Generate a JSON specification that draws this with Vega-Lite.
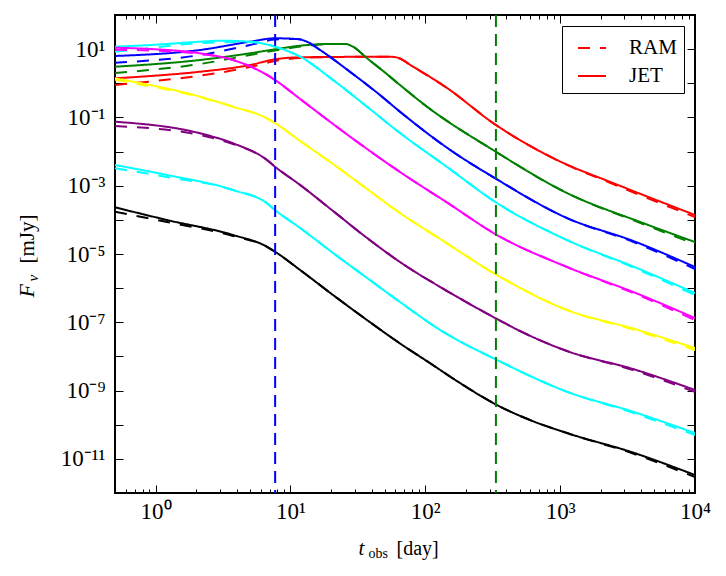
{
  "$schema": "https://vega.github.io/schema/vega-lite/v6.json",
  "width": 580,
  "height": 478,
  "autosize": {"type": "none"},
  "padding": {"left": 115, "top": 15, "right": 31, "bottom": 83},
  "background": "white",
  "data": {"values": [
    {"t":0.5,"F":1.40,"s":"red","m":"JET"},{"t":0.909,"F":1.63,"s":"red","m":"JET"},{"t":2.135,"F":2.18,"s":"red","m":"JET"},{"t":5.01,"F":3.43,"s":"red","m":"JET"},{"t":7.68,"F":5.04,"s":"red","m":"JET"},{"t":11.8,"F":5.77,"s":"red","m":"JET"},{"t":30,"F":5.96,"s":"red","m":"JET"},{"t":54.7,"F":6.01,"s":"red","m":"JET"},{"t":61.7,"F":5.69,"s":"red","m":"JET"},{"t":81.1,"F":3.06,"s":"red","m":"JET"},{"t":145,"F":0.728,"s":"red","m":"JET"},{"t":318,"F":0.0687,"s":"red","m":"JET"},{"t":948,"F":0.00566,"s":"red","m":"JET"},{"t":2466,"F":0.00120,"s":"red","m":"JET"},{"t":10000,"F":1.39e-4,"s":"red","m":"JET"},
    {"t":0.5,"F":0.891,"s":"red","m":"RAM"},{"t":0.909,"F":1.127,"s":"red","m":"RAM"},{"t":2.135,"F":1.667,"s":"red","m":"RAM"},{"t":5.01,"F":3.00,"s":"red","m":"RAM"},{"t":7.68,"F":4.50,"s":"red","m":"RAM"},{"t":11.8,"F":5.51,"s":"red","m":"RAM"},{"t":30,"F":5.96,"s":"red","m":"RAM"},{"t":54.7,"F":6.01,"s":"red","m":"RAM"},{"t":61.7,"F":5.69,"s":"red","m":"RAM"},{"t":81.1,"F":3.06,"s":"red","m":"RAM"},{"t":145,"F":0.728,"s":"red","m":"RAM"},{"t":318,"F":0.0687,"s":"red","m":"RAM"},{"t":948,"F":0.0056,"s":"red","m":"RAM"},{"t":2466,"F":0.00112,"s":"red","m":"RAM"},{"t":10000,"F":1.21e-4,"s":"red","m":"RAM"},

    {"t":0.5,"F":3.06,"s":"green","m":"JET"},{"t":2.135,"F":4.81,"s":"green","m":"JET"},{"t":5.01,"F":7.55,"s":"green","m":"JET"},{"t":7.68,"F":9.89,"s":"green","m":"JET"},{"t":11.8,"F":12.6,"s":"green","m":"JET"},{"t":20.7,"F":14.2,"s":"green","m":"JET"},{"t":25.4,"F":14.2,"s":"green","m":"JET"},{"t":29.1,"F":11.8,"s":"green","m":"JET"},{"t":37.0,"F":5.40,"s":"green","m":"JET"},{"t":48.6,"F":2.3,"s":"green","m":"JET"},{"t":64.9,"F":0.89,"s":"green","m":"JET"},{"t":103,"F":0.206,"s":"green","m":"JET"},{"t":318,"F":0.0111,"s":"green","m":"JET"},{"t":1124,"F":6.11e-4,"s":"green","m":"JET"},{"t":4116,"F":8.07e-5,"s":"green","m":"JET"},{"t":10000,"F":2.24e-5,"s":"green","m":"JET"},
    {"t":0.5,"F":2.00,"s":"green","m":"RAM"},{"t":2.135,"F":3.67,"s":"green","m":"RAM"},{"t":5.01,"F":6.73,"s":"green","m":"RAM"},{"t":7.68,"F":9.12,"s":"green","m":"RAM"},{"t":11.8,"F":11.9,"s":"green","m":"RAM"},{"t":20.7,"F":14.2,"s":"green","m":"RAM"},{"t":25.4,"F":14.2,"s":"green","m":"RAM"},{"t":29.1,"F":11.8,"s":"green","m":"RAM"},{"t":37.0,"F":5.40,"s":"green","m":"RAM"},{"t":48.6,"F":2.3,"s":"green","m":"RAM"},{"t":64.9,"F":0.89,"s":"green","m":"RAM"},{"t":103,"F":0.206,"s":"green","m":"RAM"},{"t":318,"F":0.0111,"s":"green","m":"RAM"},{"t":1124,"F":6.11e-4,"s":"green","m":"RAM"},{"t":4116,"F":7.55e-5,"s":"green","m":"RAM"},{"t":10000,"F":1.96e-5,"s":"green","m":"RAM"},

    {"t":0.5,"F":6.30,"s":"blue","m":"JET"},{"t":2.135,"F":9.44,"s":"blue","m":"JET"},{"t":5.01,"F":16.5,"s":"blue","m":"JET"},{"t":7.68,"F":20.8,"s":"blue","m":"JET"},{"t":11.19,"F":19.8,"s":"blue","m":"JET"},{"t":13.27,"F":16.5,"s":"blue","m":"JET"},{"t":16.6,"F":9.44,"s":"blue","m":"JET"},{"t":27.6,"F":2.18,"s":"blue","m":"JET"},{"t":46.1,"F":0.454,"s":"blue","m":"JET"},{"t":64.9,"F":0.147,"s":"blue","m":"JET"},{"t":161,"F":0.00971,"s":"blue","m":"JET"},{"t":318,"F":0.00180,"s":"blue","m":"JET"},{"t":1124,"F":1.13e-4,"s":"blue","m":"JET"},{"t":3470,"F":2.42e-5,"s":"blue","m":"JET"},{"t":10000,"F":4.16e-6,"s":"blue","m":"JET"},
    {"t":0.5,"F":4.01,"s":"blue","m":"RAM"},{"t":2.135,"F":6.73,"s":"blue","m":"RAM"},{"t":5.01,"F":13.2,"s":"blue","m":"RAM"},{"t":7.68,"F":19.1,"s":"blue","m":"RAM"},{"t":11.19,"F":19.8,"s":"blue","m":"RAM"},{"t":13.27,"F":16.5,"s":"blue","m":"RAM"},{"t":16.6,"F":9.44,"s":"blue","m":"RAM"},{"t":27.6,"F":2.18,"s":"blue","m":"RAM"},{"t":46.1,"F":0.454,"s":"blue","m":"RAM"},{"t":64.9,"F":0.147,"s":"blue","m":"RAM"},{"t":161,"F":0.00971,"s":"blue","m":"RAM"},{"t":318,"F":0.00180,"s":"blue","m":"RAM"},{"t":1124,"F":1.13e-4,"s":"blue","m":"RAM"},{"t":3470,"F":2.26e-5,"s":"blue","m":"RAM"},{"t":10000,"F":3.64e-6,"s":"blue","m":"RAM"},

    {"t":0.5,"F":11.8,"s":"cyan1","m":"JET"},{"t":0.909,"F":13.2,"s":"cyan1","m":"JET"},{"t":2.135,"F":16.5,"s":"cyan1","m":"JET"},{"t":3.0,"F":17.7,"s":"cyan1","m":"JET"},{"t":5.01,"F":16.5,"s":"cyan1","m":"JET"},{"t":7.68,"F":11.8,"s":"cyan1","m":"JET"},{"t":11.8,"F":6.01,"s":"cyan1","m":"JET"},{"t":20.7,"F":1.25,"s":"cyan1","m":"JET"},{"t":37.0,"F":0.206,"s":"cyan1","m":"JET"},{"t":64.9,"F":0.035,"s":"cyan1","m":"JET"},{"t":145,"F":0.00353,"s":"cyan1","m":"JET"},{"t":340,"F":3.11e-4,"s":"cyan1","m":"JET"},{"t":1124,"F":2.56e-5,"s":"cyan1","m":"JET"},{"t":3470,"F":4.33e-6,"s":"cyan1","m":"JET"},{"t":10000,"F":7.19e-7,"s":"cyan1","m":"JET"},
    {"t":0.5,"F":8.41,"s":"cyan1","m":"RAM"},{"t":0.909,"F":10.8,"s":"cyan1","m":"RAM"},{"t":2.135,"F":15.1,"s":"cyan1","m":"RAM"},{"t":5.01,"F":16.2,"s":"cyan1","m":"RAM"},{"t":7.68,"F":11.8,"s":"cyan1","m":"RAM"},{"t":11.8,"F":6.01,"s":"cyan1","m":"RAM"},{"t":20.7,"F":1.25,"s":"cyan1","m":"RAM"},{"t":37.0,"F":0.206,"s":"cyan1","m":"RAM"},{"t":64.9,"F":0.035,"s":"cyan1","m":"RAM"},{"t":145,"F":0.00353,"s":"cyan1","m":"RAM"},{"t":340,"F":3.11e-4,"s":"cyan1","m":"RAM"},{"t":1124,"F":2.56e-5,"s":"cyan1","m":"RAM"},{"t":3470,"F":4.05e-6,"s":"cyan1","m":"RAM"},{"t":10000,"F":6.28e-7,"s":"cyan1","m":"RAM"},

    {"t":0.5,"F":11.0,"s":"magenta","m":"JET"},{"t":0.909,"F":10.1,"s":"magenta","m":"JET"},{"t":2.135,"F":7.55,"s":"magenta","m":"JET"},{"t":3.75,"F":4.81,"s":"magenta","m":"JET"},{"t":6.70,"F":1.75,"s":"magenta","m":"JET"},{"t":7.68,"F":1.25,"s":"magenta","m":"JET"},{"t":11.8,"F":0.347,"s":"magenta","m":"JET"},{"t":20.7,"F":0.0641,"s":"magenta","m":"JET"},{"t":37.0,"F":0.0119,"s":"magenta","m":"JET"},{"t":64.9,"F":0.00252,"s":"magenta","m":"JET"},{"t":145,"F":3.22e-4,"s":"magenta","m":"JET"},{"t":340,"F":3.60e-5,"s":"magenta","m":"JET"},{"t":1124,"F":4.16e-6,"s":"magenta","m":"JET"},{"t":3470,"F":7.75e-7,"s":"magenta","m":"JET"},{"t":10000,"F":1.33e-7,"s":"magenta","m":"JET"},
    {"t":0.5,"F":9.55,"s":"magenta","m":"RAM"},{"t":0.909,"F":9.12,"s":"magenta","m":"RAM"},{"t":2.135,"F":7.24,"s":"magenta","m":"RAM"},{"t":3.75,"F":4.81,"s":"magenta","m":"RAM"},{"t":6.70,"F":1.75,"s":"magenta","m":"RAM"},{"t":7.68,"F":1.25,"s":"magenta","m":"RAM"},{"t":11.8,"F":0.347,"s":"magenta","m":"RAM"},{"t":20.7,"F":0.0641,"s":"magenta","m":"RAM"},{"t":37.0,"F":0.0119,"s":"magenta","m":"RAM"},{"t":64.9,"F":0.00252,"s":"magenta","m":"RAM"},{"t":145,"F":3.22e-4,"s":"magenta","m":"RAM"},{"t":340,"F":3.60e-5,"s":"magenta","m":"RAM"},{"t":1124,"F":4.16e-6,"s":"magenta","m":"RAM"},{"t":3470,"F":7.25e-7,"s":"magenta","m":"RAM"},{"t":10000,"F":1.16e-7,"s":"magenta","m":"RAM"},

    {"t":0.5,"F":1.40,"s":"yellow","m":"JET"},{"t":2.135,"F":0.405,"s":"yellow","m":"JET"},{"t":3.75,"F":0.206,"s":"yellow","m":"JET"},{"t":6.70,"F":0.0942,"s":"yellow","m":"JET"},{"t":7.68,"F":0.0687,"s":"yellow","m":"JET"},{"t":11.8,"F":0.0204,"s":"yellow","m":"JET"},{"t":20.7,"F":0.00432,"s":"yellow","m":"JET"},{"t":37.0,"F":8.0e-4,"s":"yellow","m":"JET"},{"t":64.9,"F":1.58e-4,"s":"yellow","m":"JET"},{"t":129,"F":2.75e-5,"s":"yellow","m":"JET"},{"t":340,"F":2.42e-6,"s":"yellow","m":"JET"},{"t":1124,"F":2.29e-7,"s":"yellow","m":"JET"},{"t":3470,"F":6.56e-8,"s":"yellow","m":"JET"},{"t":10000,"F":1.76e-8,"s":"yellow","m":"JET"},
    {"t":0.5,"F":1.26,"s":"yellow","m":"RAM"},{"t":2.135,"F":0.389,"s":"yellow","m":"RAM"},{"t":3.75,"F":0.206,"s":"yellow","m":"RAM"},{"t":6.70,"F":0.0942,"s":"yellow","m":"RAM"},{"t":7.68,"F":0.0687,"s":"yellow","m":"RAM"},{"t":11.8,"F":0.0204,"s":"yellow","m":"RAM"},{"t":20.7,"F":0.00432,"s":"yellow","m":"RAM"},{"t":37.0,"F":8.0e-4,"s":"yellow","m":"RAM"},{"t":64.9,"F":1.58e-4,"s":"yellow","m":"RAM"},{"t":129,"F":2.75e-5,"s":"yellow","m":"RAM"},{"t":340,"F":2.42e-6,"s":"yellow","m":"RAM"},{"t":1124,"F":2.29e-7,"s":"yellow","m":"RAM"},{"t":3470,"F":6.13e-8,"s":"yellow","m":"RAM"},{"t":10000,"F":1.54e-8,"s":"yellow","m":"RAM"},

    {"t":0.5,"F":0.0750,"s":"purple","m":"JET"},{"t":2.135,"F":0.0343,"s":"purple","m":"JET"},{"t":3.75,"F":0.0175,"s":"purple","m":"JET"},{"t":6.70,"F":0.00566,"s":"purple","m":"JET"},{"t":7.68,"F":0.00361,"s":"purple","m":"JET"},{"t":11.8,"F":1.05e-3,"s":"purple","m":"JET"},{"t":20.7,"F":1.82e-4,"s":"purple","m":"JET"},{"t":37.0,"F":2.94e-5,"s":"purple","m":"JET"},{"t":64.9,"F":5.82e-6,"s":"purple","m":"JET"},{"t":145,"F":8.24e-7,"s":"purple","m":"JET"},{"t":340,"F":1.25e-7,"s":"purple","m":"JET"},{"t":504,"F":5.55e-8,"s":"purple","m":"JET"},{"t":1124,"F":1.44e-8,"s":"purple","m":"JET"},{"t":3470,"F":4.28e-9,"s":"purple","m":"JET"},{"t":10000,"F":1.04e-9,"s":"purple","m":"JET"},
    {"t":0.5,"F":0.0561,"s":"purple","m":"RAM"},{"t":2.135,"F":0.0305,"s":"purple","m":"RAM"},{"t":3.75,"F":0.0166,"s":"purple","m":"RAM"},{"t":6.70,"F":0.00566,"s":"purple","m":"RAM"},{"t":7.68,"F":0.00361,"s":"purple","m":"RAM"},{"t":11.8,"F":1.05e-3,"s":"purple","m":"RAM"},{"t":20.7,"F":1.82e-4,"s":"purple","m":"RAM"},{"t":37.0,"F":2.94e-5,"s":"purple","m":"RAM"},{"t":64.9,"F":5.82e-6,"s":"purple","m":"RAM"},{"t":145,"F":8.24e-7,"s":"purple","m":"RAM"},{"t":340,"F":1.25e-7,"s":"purple","m":"RAM"},{"t":504,"F":5.55e-8,"s":"purple","m":"RAM"},{"t":1124,"F":1.44e-8,"s":"purple","m":"RAM"},{"t":3470,"F":4.00e-9,"s":"purple","m":"RAM"},{"t":10000,"F":9.09e-10,"s":"purple","m":"RAM"},

    {"t":0.5,"F":0.00404,"s":"cyan2","m":"JET"},{"t":1.215,"F":0.00206,"s":"cyan2","m":"JET"},{"t":3.75,"F":7.48e-4,"s":"cyan2","m":"JET"},{"t":6.70,"F":3.05e-4,"s":"cyan2","m":"JET"},{"t":7.68,"F":1.94e-4,"s":"cyan2","m":"JET"},{"t":11.8,"F":5.77e-5,"s":"cyan2","m":"JET"},{"t":20.7,"F":1.07e-5,"s":"cyan2","m":"JET"},{"t":37.0,"F":1.98e-6,"s":"cyan2","m":"JET"},{"t":64.9,"F":3.93e-7,"s":"cyan2","m":"JET"},{"t":129,"F":5.93e-8,"s":"cyan2","m":"JET"},{"t":340,"F":7.85e-9,"s":"cyan2","m":"JET"},{"t":1124,"F":9.25e-10,"s":"cyan2","m":"JET"},{"t":3470,"F":2.40e-10,"s":"cyan2","m":"JET"},{"t":10000,"F":5.70e-11,"s":"cyan2","m":"JET"},
    {"t":0.5,"F":0.00324,"s":"cyan2","m":"RAM"},{"t":1.215,"F":0.00180,"s":"cyan2","m":"RAM"},{"t":3.75,"F":7.48e-4,"s":"cyan2","m":"RAM"},{"t":6.70,"F":3.05e-4,"s":"cyan2","m":"RAM"},{"t":7.68,"F":1.94e-4,"s":"cyan2","m":"RAM"},{"t":11.8,"F":5.77e-5,"s":"cyan2","m":"RAM"},{"t":20.7,"F":1.07e-5,"s":"cyan2","m":"RAM"},{"t":37.0,"F":1.98e-6,"s":"cyan2","m":"RAM"},{"t":64.9,"F":3.93e-7,"s":"cyan2","m":"RAM"},{"t":129,"F":5.93e-8,"s":"cyan2","m":"RAM"},{"t":340,"F":7.85e-9,"s":"cyan2","m":"RAM"},{"t":1124,"F":9.25e-10,"s":"cyan2","m":"RAM"},{"t":3470,"F":2.24e-10,"s":"cyan2","m":"RAM"},{"t":10000,"F":4.98e-11,"s":"cyan2","m":"RAM"},

    {"t":0.5,"F":2.33e-4,"s":"black","m":"JET"},{"t":1.215,"F":9.89e-5,"s":"black","m":"JET"},{"t":3.75,"F":3.60e-5,"s":"black","m":"JET"},{"t":6.70,"F":1.63e-5,"s":"black","m":"JET"},{"t":7.68,"F":1.17e-5,"s":"black","m":"JET"},{"t":11.8,"F":3.40e-6,"s":"black","m":"JET"},{"t":20.7,"F":6.28e-7,"s":"black","m":"JET"},{"t":37.0,"F":1.16e-7,"s":"black","m":"JET"},{"t":64.9,"F":2.40e-8,"s":"black","m":"JET"},{"t":108,"F":6.41e-9,"s":"black","m":"JET"},{"t":181,"F":1.66e-9,"s":"black","m":"JET"},{"t":340,"F":3.77e-10,"s":"black","m":"JET"},{"t":598,"F":1.37e-10,"s":"black","m":"JET"},{"t":1124,"F":5.70e-11,"s":"black","m":"JET"},{"t":3470,"F":1.53e-11,"s":"black","m":"JET"},{"t":10000,"F":3.36e-12,"s":"black","m":"JET"},
    {"t":0.5,"F":1.73e-4,"s":"black","m":"RAM"},{"t":1.215,"F":8.65e-5,"s":"black","m":"RAM"},{"t":3.75,"F":3.37e-5,"s":"black","m":"RAM"},{"t":6.70,"F":1.63e-5,"s":"black","m":"RAM"},{"t":7.68,"F":1.17e-5,"s":"black","m":"RAM"},{"t":11.8,"F":3.40e-6,"s":"black","m":"RAM"},{"t":20.7,"F":6.28e-7,"s":"black","m":"RAM"},{"t":37.0,"F":1.16e-7,"s":"black","m":"RAM"},{"t":64.9,"F":2.40e-8,"s":"black","m":"RAM"},{"t":108,"F":6.41e-9,"s":"black","m":"RAM"},{"t":181,"F":1.66e-9,"s":"black","m":"RAM"},{"t":340,"F":3.77e-10,"s":"black","m":"RAM"},{"t":598,"F":1.37e-10,"s":"black","m":"RAM"},{"t":1124,"F":5.70e-11,"s":"black","m":"RAM"},{"t":3470,"F":1.43e-11,"s":"black","m":"RAM"},{"t":10000,"F":2.94e-12,"s":"black","m":"RAM"}
  ]},
  "layer": [
    {
      "mark": {"type": "line", "strokeWidth": 2, "interpolate": "monotone", "clip": true},
      "encoding": {
        "x": {"field": "t", "type": "quantitative",
              "scale": {"type": "log", "domain": [0.5, 10000], "nice": false},
              "axis": {"orient": "bottom",
                       "values": [0.6,0.7,0.8,0.9,1,2,3,4,5,6,7,8,9,10,20,30,40,50,60,70,80,90,100,200,300,400,500,600,700,800,900,1000,2000,3000,4000,5000,6000,7000,8000,9000,10000],
                       "labelExpr": "abs(log(datum.value)/LN10 - round(log(datum.value)/LN10)) < 1e-6 ? ['10⁰','10¹','10²','10³','10⁴'][round(log(datum.value)/LN10)] : ''",
                       "tickSize": {"condition": {"test": "abs(log(datum.value)/LN10 - round(log(datum.value)/LN10)) < 1e-6", "value": -8}, "value": -4},
                       "labelPadding": 15, "labelFontSize": 23, "labelOverlap": false, "labelFlush": false,
                       "title": "[day]", "titleX": 281, "titleY": 61, "titleAlign": "left", "titleBaseline": "alphabetic", "titleFontSize": 20}},
        "y": {"field": "F", "type": "quantitative",
              "scale": {"type": "log", "domain": [1e-12, 100], "nice": false},
              "axis": {"orient": "left",
                       "values": [1e-12,1e-11,1e-10,1e-9,1e-8,1e-7,1e-6,1e-5,1e-4,1e-3,1e-2,1e-1,1,10,100],
                       "labelExpr": "['','10⁻¹¹','','10⁻⁹','','10⁻⁷','','10⁻⁵','','10⁻³','','10⁻¹','','10¹',''][round(log(datum.value)/LN10) + 12]",
                       "tickSize": -8, "labelPadding": 18, "labelFontSize": 23, "labelOverlap": false, "labelFlush": false,
                       "title": "[mJy]", "titleX": -82, "titleY": 248, "titleAngle": 270, "titleAlign": "left", "titleBaseline": "alphabetic", "titleFontSize": 21}},
        "color": {"field": "s", "type": "nominal", "legend": null,
                  "scale": {"domain": ["red","green","blue","cyan1","magenta","yellow","purple","cyan2","black"],
                            "range": ["#ff0000","#008000","#0000ff","#00ffff","#ff00ff","#ffff00","#800080","#00ffff","#000000"]}},
        "strokeDash": {"field": "m", "type": "nominal",
                       "scale": {"domain": ["RAM","JET"], "range": [[12,10],[1,0]]},
                       "legend": {"title": null, "orient": "top-right", "offset": 11,
                                  "symbolType": "stroke", "symbolSize": 784, "symbolStrokeWidth": 2, "symbolStrokeColor": "#ff0000", "symbolOffset": 8,
                                  "labelFontSize": 21, "labelOffset": 22, "labelColor": "black",
                                  "labelExpr": "datum.label + '\u00a0\u00a0'",
                                  "strokeColor": "black", "fillColor": "white", "padding": 7, "rowPadding": 3, "cornerRadius": 0}}
      }
    },
    {
      "mark": {"type": "point", "opacity": 0},
      "encoding": {
        "x": {"field": "t", "type": "quantitative",
              "axis": {"orient": "top", "values": [0.6,0.7,0.8,0.9,1,2,3,4,5,6,7,8,9,10,20,30,40,50,60,70,80,90,100,200,300,400,500,600,700,800,900,1000,2000,3000,4000,5000,6000,7000,8000,9000,10000],
                       "labels": false, "title": null,
                       "tickSize": {"condition": {"test": "abs(log(datum.value)/LN10 - round(log(datum.value)/LN10)) < 1e-6", "value": -8}, "value": -4}}},
        "y": {"field": "F", "type": "quantitative",
              "axis": {"orient": "right", "values": [1e-12,1e-11,1e-10,1e-9,1e-8,1e-7,1e-6,1e-5,1e-4,1e-3,1e-2,1e-1,1,10,100],
                       "labels": false, "title": null, "tickSize": -8}}
      }
    },
    {
      "mark": {"type": "point", "opacity": 0},
      "encoding": {
        "x": {"field": "t", "type": "quantitative",
              "axis": {"orient": "bottom", "ticks": false, "labels": false,
                       "title": "t", "titleFontStyle": "italic", "titleFontSize": 21, "titleX": 243, "titleY": 61, "titleAlign": "left", "titleBaseline": "alphabetic"}},
        "y": {"field": "F", "type": "quantitative",
              "axis": {"orient": "left", "ticks": false, "labels": false,
                       "title": "F", "titleFontStyle": "italic", "titleFontSize": 22, "titleX": -82, "titleY": 282, "titleAngle": 270, "titleAlign": "left", "titleBaseline": "alphabetic"}}
      }
    },
    {
      "mark": {"type": "point", "opacity": 0},
      "encoding": {
        "x": {"field": "t", "type": "quantitative",
              "axis": {"orient": "bottom", "ticks": false, "labels": false,
                       "title": "obs", "titleFontSize": 14, "titleX": 253, "titleY": 64, "titleAlign": "left", "titleBaseline": "alphabetic"}},
        "y": {"field": "F", "type": "quantitative",
              "axis": {"orient": "left", "ticks": false, "labels": false,
                       "title": "ν", "titleFontStyle": "italic", "titleFontSize": 15, "titleX": -78, "titleY": 266, "titleAngle": 270, "titleAlign": "left", "titleBaseline": "alphabetic"}}
      }
    },
    {
      "data": {"values": [{"t": 7.7}]},
      "mark": {"type": "rule", "color": "#0000ff", "strokeWidth": 2, "strokeDash": [12, 7]},
      "encoding": {"x": {"field": "t", "type": "quantitative", "axis": null}}
    },
    {
      "data": {"values": [{"t": 334}]},
      "mark": {"type": "rule", "color": "#008000", "strokeWidth": 2, "strokeDash": [12, 7]},
      "encoding": {"x": {"field": "t", "type": "quantitative", "axis": null}}
    }
  ],
  "resolve": {"axis": {"x": "independent", "y": "independent"}},
  "config": {
    "view": {"stroke": "black", "strokeWidth": 2},
    "axis": {"domain": false, "grid": false, "tickColor": "black", "tickWidth": 1,
             "labelColor": "black", "titleColor": "black",
             "labelFont": "Liberation Serif", "titleFont": "Liberation Serif", "titleFontWeight": "normal"},
    "legend": {"labelFont": "Liberation Serif"}
  }
}
